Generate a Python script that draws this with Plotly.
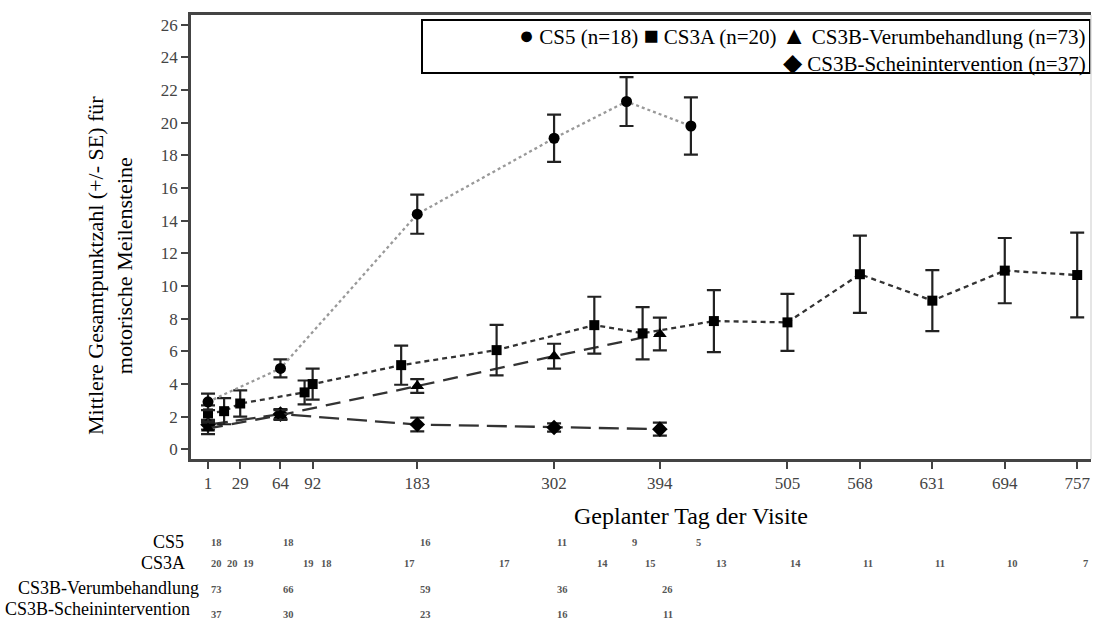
import plotly.graph_objects as go

# ---------------- data ----------------
tick_days = [1, 29, 64, 92, 183, 302, 394, 505, 568, 631, 694, 757]

cs5_days = [1, 64, 183, 302, 365, 421]
cs5_mean = [2.9, 4.95, 14.4, 19.05, 21.3, 19.8]
cs5_se = [0.5, 0.55, 1.2, 1.45, 1.5, 1.75]

cs3a_days = [1, 15, 29, 85, 92, 169, 252, 337, 379, 441, 505, 568, 631, 694, 757]
cs3a_mean = [2.19, 2.33, 2.8, 3.48, 3.99, 5.15, 6.07, 7.6, 7.1, 7.85, 7.77, 10.72, 9.1, 10.94, 10.67]
cs3a_se = [0.5, 0.8, 0.8, 0.73, 0.95, 1.2, 1.55, 1.74, 1.6, 1.9, 1.75, 2.37, 1.87, 2.0, 2.6]

verum_days = [1, 64, 183, 302, 394]
verum_mean = [1.27, 2.09, 3.87, 5.7, 7.06]
verum_se = [0.35, 0.3, 0.42, 0.76, 1.0]

sham_days = [1, 64, 183, 302, 394]
sham_mean = [1.5, 2.15, 1.51, 1.33, 1.23]
sham_se = [0.3, 0.3, 0.42, 0.25, 0.4]

legend_names = ["CS5 (n=18)", "CS3A (n=20)", "CS3B-Verumbehandlung (n=73)", "CS3B-Scheinintervention (n=37)"]
legend_symbols = ["●", "■", "▲", "◆"]

table_labels = ["CS5", "CS3A", "CS3B-Verumbehandlung", "CS3B-Scheinintervention"]
cs5_n = [18, 18, 16, 11, 9, 5]
cs3a_n = [20, 20, 19, 19, 18, 17, 17, 14, 15, 13, 14, 11, 11, 10, 7]
verum_n = [73, 66, 59, 36, 26]
sham_n = [37, 30, 23, 16, 11]

y_title = "Mittlere Gesamtpunktzahl (+/- SE) für<br>motorische Meilensteine"
x_title = "Geplanter Tag der Visite"

# ---------------- layout helpers (pixel -> paper) ----------------
W, H = 1093, 621
L, R, T, B = 191, 1091, 15, 459


def px(xp):
    return (xp - L) / (R - L)


def py(yp):
    return (B - yp) / (B - T)


SERIF = "Liberation Serif, Times New Roman, serif"

fig = go.Figure()


def add_series(days, mean, se, name, symbol, size, dash, lcolor):
    fig.add_trace(go.Scatter(
        x=days, y=mean, name=name, mode="lines+markers",
        line=dict(color=lcolor, width=2.3, dash=dash),
        marker=dict(symbol=symbol, size=size, color="black"),
        error_y=dict(type="data", array=se, visible=True, color="#222",
                     thickness=2.2, width=7),
        showlegend=False,
    ))


add_series(sham_days, sham_mean, sham_se, "CS3B-Scheinintervention", "diamond", 12, "20px,8px", "#333")
add_series(verum_days, verum_mean, verum_se, "CS3B-Verumbehandlung", "triangle-up", 12, "15px,9px", "#333")
add_series(cs3a_days, cs3a_mean, cs3a_se, "CS3A", "square", 10, "5px,4px", "#333")
add_series(cs5_days, cs5_mean, cs5_se, "CS5", "circle", 11, "dot", "#999")

annotations = []


def leg_item(sym, name):
    return "<span style='font-size:25px'>%s</span> %s" % (sym, name)


legend_row1 = " ".join(leg_item(s, n) for s, n in zip(legend_symbols[:3], legend_names[:3]))
legend_row2 = leg_item(legend_symbols[3], legend_names[3])

# legend (as text inside a box)
annotations.append(dict(x=px(1088), y=py(36), xref="paper", yref="paper",
                        text=legend_row1, showarrow=False, xanchor="right", yanchor="middle",
                        font=dict(family=SERIF, size=21, color="black")))
annotations.append(dict(x=px(1088), y=py(62), xref="paper", yref="paper",
                        text=legend_row2, showarrow=False, xanchor="right", yanchor="middle",
                        font=dict(family=SERIF, size=21, color="black")))

# axis titles
annotations.append(dict(x=px(691), y=py(516), xref="paper", yref="paper",
                        text=x_title, showarrow=False, xanchor="center", yanchor="middle",
                        font=dict(family=SERIF, size=24, color="black")))
annotations.append(dict(x=px(110), y=py(266), xref="paper", yref="paper",
                        text=y_title, showarrow=False, xanchor="center", yanchor="middle",
                        textangle=-90,
                        font=dict(family=SERIF, size=22, color="black")))

# at-risk table
row_y = [542, 563, 588, 609]
row_right = [186, 187, 201, 192]
for lab, yy, xr in zip(table_labels, row_y, row_right):
    annotations.append(dict(x=px(xr), y=py(yy), xref="paper", yref="paper",
                            text=lab, showarrow=False, xanchor="right", yanchor="middle",
                            font=dict(family=SERIF, size=18, color="black")))

num_y = [542, 563, 589, 614]
special_shift = {(1, 85): 4, (1, 92): 14}
for r, (days, ns, yy) in enumerate(zip([cs5_days, cs3a_days, verum_days, sham_days],
                                       [cs5_n, cs3a_n, verum_n, sham_n], num_y)):
    for d, n in zip(days, ns):
        annotations.append(dict(x=d, y=py(yy), xref="x", yref="paper",
                                text="<b>%d</b>" % n, showarrow=False, xanchor="center",
                                yanchor="middle", xshift=special_shift.get((r, d), 8),
                                font=dict(family=SERIF, size=10.5, color="#555")))

shapes = [
    dict(type="rect", xref="paper", yref="paper", x0=px(422), x1=px(1090),
         y0=py(73), y1=py(20), line=dict(color="black", width=2), fillcolor="rgba(0,0,0,0)"),
    dict(type="line", xref="paper", yref="paper", x0=1, x1=1, y0=0, y1=1,
         line=dict(color="#ddd", width=1.5)),
]

fig.update_layout(
    width=W, height=H, autosize=False,
    margin=dict(l=L, r=W - R, t=T, b=H - B, pad=0),
    plot_bgcolor="white", paper_bgcolor="white",
    annotations=annotations, shapes=shapes,
    showlegend=False,
    xaxis=dict(range=[-13.8, 769], tickmode="array", tickvals=tick_days,
               ticktext=[str(t) for t in tick_days],
               showgrid=False, zeroline=False, showline=True, linecolor="#444",
               linewidth=2.5, mirror=True, ticks="outside", ticklen=7, tickwidth=2,
               tickcolor="#444",
               tickfont=dict(family=SERIF, size=17, color="#444")),
    yaxis=dict(range=[-0.6, 26.6], tickmode="array", tickvals=list(range(0, 27, 2)),
               showgrid=False, zeroline=False, showline=True, linecolor="#444",
               linewidth=2.5, ticks="outside", ticklen=7, tickwidth=2, tickcolor="#444",
               tickfont=dict(family=SERIF, size=17, color="#444")),
)

fig.write_html(
    "out.html",
    config={"displayModeBar": False},
    post_script="document.body.style.margin='0';document.body.style.padding='0';"
                "document.body.style.overflow='hidden';"
                "document.documentElement.style.overflow='hidden';",
)
